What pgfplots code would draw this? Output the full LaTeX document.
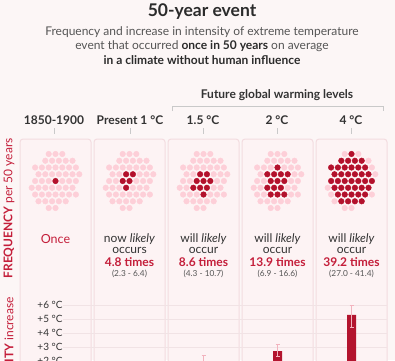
\documentclass[border=0pt]{standalone}
\usepackage{fontspec}
\setmainfont{Lato}
\usepackage{pgfplots}
\pgfplotsset{compat=1.18}
\usepackage{pgfplotstable}
\definecolor{bg}{HTML}{FCF6F6}
\definecolor{panelfill}{HTML}{FDF3F4}
\definecolor{panelborder}{HTML}{F3DCE0}
\definecolor{titlecol}{HTML}{2B2B2B}
\definecolor{subcol}{HTML}{555555}
\definecolor{hdrcol}{HTML}{333333}
\definecolor{redtxt}{HTML}{C41E3A}
\definecolor{lightdot}{HTML}{FDCFD8}
\definecolor{darkdot}{HTML}{B3112C}
\definecolor{barcol}{HTML}{B3142E}
\definecolor{errcol}{HTML}{F2B3BE}
\definecolor{gridcol}{HTML}{F1E3E5}
\definecolor{tickcol}{HTML}{C9C9C9}

\pgfplotstableread{
x y r
0 0 1
0.5 0.866 2
-0.5 0.866 3
-1 0 4
-0.5 -0.866 5
1 0 6
0.5 -0.866 7
-1.5 -0.866 8
0 -1.732 9
1.5 0.866 10
0 1.732 11
-1.5 0.866 12
1 -1.732 13
-1 -1.732 14
1.5 -0.866 15
2 0 16
-2 0 17
1 1.732 18
-1 1.732 19
2.5 0.866 20
-2.5 0.866 21
2.5 -0.866 22
-2.5 -0.866 23
0.5 2.598 24
-0.5 2.598 25
0.5 -2.598 26
-0.5 -2.598 27
2 1.732 28
-2 1.732 29
2 -1.732 30
-2 -1.732 31
3 0 32
-3 0 33
1.5 2.598 34
-1.5 2.598 35
1.5 -2.598 36
-1.5 -2.598 37
0 3.464 38
-3 1.732 39
-3 -1.732 40
0 -3.464 41
3 1.732 42
3 -1.732 43
3.5 0.866 44
-3.5 -0.866 45
2.5 2.598 46
-2.5 -2.598 47
1 3.464 48
-1 3.464 49
-1 -3.464 50
}\dottab

\pgfplotsset{
  dotaxis/.style={x=6.8pt, y=7.8pt, xmin=-4, xmax=4, ymin=-4, ymax=4,
    hide axis, clip=false, anchor=center},
  lightpts/.style={only marks, mark=*, mark size=2.8pt, color=lightdot},
  darkpts/.style={only marks, mark=*, mark size=2.8pt, color=darkdot,
    x filter/.expression={\thisrow{r}<=#1 ? x : nan}},
}

\begin{document}
\begin{tikzpicture}
\useasboundingbox (0,0) rectangle (395pt,-360pt);
\clip (0,0) rectangle (395pt,-360pt);
\fill[bg] (0,0) rectangle (395pt,-360pt);

% Title block
\node[font=\bfseries\fontsize{17.5}{20}\selectfont, text=titlecol] at (202pt,-12pt) {50-year event};
\node[font=\fontsize{12}{14}\selectfont, text=subcol] at (202pt,-32pt) {Frequency and increase in intensity of extreme temperature};
\node[font=\fontsize{12}{14}\selectfont, text=subcol] at (202pt,-46pt) {event that occurred \textcolor{titlecol}{\textbf{once in 50 years}} on average};
\node[font=\bfseries\fontsize{12}{14}\selectfont, text=titlecol] at (202pt,-60pt) {in a climate without human influence};

% Future bracket
\node[font=\bfseries\fontsize{12}{14}\selectfont, text=hdrcol] at (277pt,-95pt) {Future global warming levels};
\draw[tickcol, line width=0.8pt] (172pt,-111pt) -- (172pt,-106pt) -- (383pt,-106pt) -- (383pt,-111pt);

% Column headers
\foreach \cx/\lab in {54/{1850-1900}, 130/{Present 1 °C}, 203/{1.5 °C}, 277/{2 °C}, 351/{4 °C}} {
  \node[font=\bfseries\fontsize{12}{14}\selectfont, text=hdrcol] at (\cx pt,-120pt) {\lab};
  \draw[tickcol, line width=0.8pt] (\cx pt,-128pt) -- (\cx pt,-134pt);
}

% Panels
\foreach \px/\qx in {20/91,94/165,168/239,242/313,316/387} {
  \draw[panelborder, fill=panelfill, line width=1pt, rounded corners=3pt]
    (\px pt,-139pt) rectangle (\qx pt,-420pt);
}

% Side labels
\node[rotate=90, anchor=east, font=\fontsize{12}{14}\selectfont, text=redtxt, inner sep=0pt] at (9pt,-138pt) {\textbf{FREQUENCY} per 50 years};
\node[rotate=90, anchor=east, font=\fontsize{12}{14}\selectfont, text=redtxt, inner sep=0pt] at (9pt,-297pt) {\textbf{INTENSITY} increase};

% Dot panels
\begin{axis}[dotaxis, at={(55.5pt,-181pt)}]
\addplot[lightpts] table[x=x,y=y] {\dottab};
\addplot[darkpts=1] table[x=x,y=y] {\dottab};
\end{axis}
\begin{axis}[dotaxis, at={(129.5pt,-181pt)}]
\addplot[lightpts] table[x=x,y=y] {\dottab};
\addplot[darkpts=5] table[x=x,y=y] {\dottab};
\end{axis}
\begin{axis}[dotaxis, at={(203.5pt,-181pt)}]
\addplot[lightpts] table[x=x,y=y] {\dottab};
\addplot[darkpts=9] table[x=x,y=y] {\dottab};
\end{axis}
\begin{axis}[dotaxis, at={(277.5pt,-181pt)}]
\addplot[lightpts] table[x=x,y=y] {\dottab};
\addplot[darkpts=14] table[x=x,y=y] {\dottab};
\end{axis}
\begin{axis}[dotaxis, at={(351.5pt,-181pt)}]
\addplot[lightpts] table[x=x,y=y] {\dottab};
\addplot[darkpts=39] table[x=x,y=y] {\dottab};
\end{axis}

% Frequency texts
\node[font=\fontsize{12.5}{14}\selectfont, text=redtxt] at (55.5pt,-239pt) {Once};
\foreach \cx/\verb/\occ/\num/\rng in {129.5/now/occurs/4.8/{2.3 - 6.4}, 203.5/will/occur/8.6/{4.3 - 10.7}, 277.5/will/occur/13.9/{6.9 - 16.6}, 351.5/will/occur/39.2/{27.0 - 41.4}} {
  \node[font=\fontsize{12}{14}\selectfont, text=hdrcol] at (\cx pt,-239pt) {\verb\ \textit{likely}};
  \node[font=\fontsize{12}{14}\selectfont, text=hdrcol] at (\cx pt,-250pt) {\occ};
  \node[font=\bfseries\fontsize{12}{14}\selectfont, text=redtxt] at (\cx pt,-262pt) {\num\ times};
  \node[font=\fontsize{8.3}{10}\selectfont, text=subcol] at (\cx pt,-274pt) {(\rng)};
}

% Intensity bars
\begin{axis}[at={(63pt,-389pt)}, anchor=south west, x=74pt, y=14pt,
  xmin=0.1, xmax=4.48, ymin=0, ymax=6.3,
  axis line style={draw=none}, tick style={draw=none},
  xtick=\empty, ytick={1,2,3,4,5,6},
  yticklabels={+1 °C,+2 °C,+3 °C,+4 °C,+5 °C,+6 °C},
  yticklabel style={font=\fontsize{10}{11}\selectfont, text=hdrcol, xshift=3pt},
  ymajorgrids, grid style={gridcol, line width=0.8pt},
  clip=false]
\addplot[ybar, bar width=9pt, fill=barcol, draw=none,
  error bars/.cd, y dir=both, y explicit,
  error bar style={errcol, line width=0.9pt},
  error mark options={errcol, mark size=2pt, rotate=90, line width=0.9pt}]
  coordinates {(1,1.2) += (0,0.2) -= (0,0.4)
               (2,2.0) += (0,0.4) -= (0,0.4)
               (3,2.7) += (0,0.5) -= (0,0.4)
               (4,5.3) += (0,0.7) -= (0,0.9)};
\end{axis}
\end{tikzpicture}
\end{document}
